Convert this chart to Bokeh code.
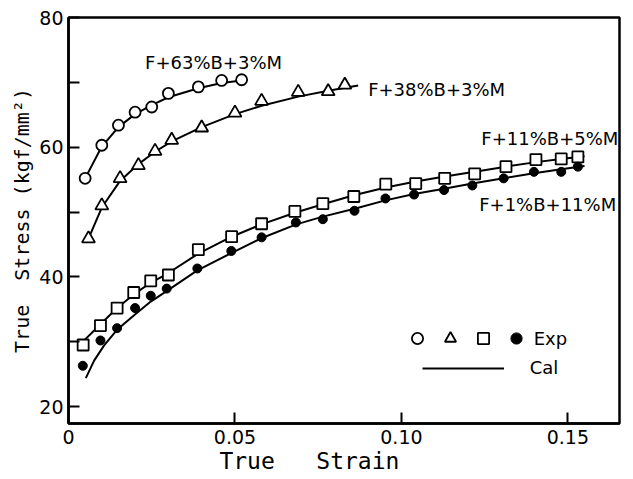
from bokeh.plotting import figure
from bokeh.models import Range1d, FixedTicker, Label, Legend, LegendItem
from bokeh.embed import file_html
from bokeh.resources import INLINE

# ---- data ----
circ_x = [0.005, 0.010, 0.015, 0.020, 0.025, 0.030, 0.039, 0.046, 0.052]
circ_y = [55.2, 60.3, 63.4, 65.4, 66.2, 68.3, 69.3, 70.3, 70.4]
tri_x = [0.006, 0.010, 0.0155, 0.021, 0.026, 0.031, 0.040, 0.050, 0.058, 0.069, 0.078, 0.083]
tri_y = [45.9, 51.0, 55.2, 57.2, 59.4, 61.1, 63.0, 65.3, 67.1, 68.5, 68.6, 69.6]
sq_x = [0.0044, 0.0096, 0.0146, 0.0196, 0.0247, 0.030, 0.039, 0.049, 0.058, 0.068,
        0.0764, 0.0857, 0.0953, 0.1043, 0.113, 0.122, 0.1314, 0.1404, 0.148, 0.153]
sq_y = [29.5, 32.5, 35.2, 37.6, 39.4, 40.3, 44.2, 46.2, 48.2, 50.1,
        51.3, 52.4, 54.3, 54.4, 55.2, 55.9, 57.0, 58.1, 58.2, 58.5]
dot_x = [0.0043, 0.0096, 0.0146, 0.020, 0.0247, 0.0295, 0.0387, 0.0489, 0.058, 0.0683,
         0.0764, 0.0859, 0.0952, 0.1038, 0.1128, 0.1213, 0.1307, 0.1398, 0.148, 0.153]
dot_y = [26.3, 30.2, 32.1, 35.2, 37.1, 38.2, 41.3, 44.0, 46.1, 48.4,
         48.9, 50.2, 52.1, 52.7, 53.4, 54.1, 55.2, 56.2, 56.2, 57.0]

# calculated curves
cal_c_x = [0.005, 0.010, 0.015, 0.020, 0.025, 0.030, 0.039, 0.046, 0.052]
cal_c_y = [55.2, 60.1, 63.1, 65.1, 66.5, 67.7, 69.1, 69.9, 70.3]
cal_t_x = [0.006, 0.010, 0.0155, 0.021, 0.026, 0.031, 0.040, 0.050, 0.058, 0.069, 0.078, 0.087]
cal_t_y = [45.9, 50.7, 54.8, 57.4, 59.3, 60.9, 63.1, 65.1, 66.4, 67.8, 68.7, 69.5]
cal_s_x = [0.0035, 0.0096, 0.0146, 0.0196, 0.0247, 0.030, 0.039, 0.049, 0.058, 0.068,
           0.0764, 0.0857, 0.0953, 0.1043, 0.113, 0.122, 0.1314, 0.1404, 0.148, 0.155]
cal_s_y = [29.6, 32.7, 35.2, 37.3, 39.1, 40.6, 43.6, 46.2, 48.1, 49.9,
           51.2, 52.6, 53.8, 54.7, 55.5, 56.2, 57.0, 57.7, 58.2, 58.6]
cal_d_x = [0.0052, 0.0077, 0.0107, 0.0145, 0.0197, 0.0247, 0.0297, 0.0387, 0.0486, 0.0581,
           0.0684, 0.0764, 0.0859, 0.0952, 0.1038, 0.1128, 0.1213, 0.1307, 0.1398, 0.148, 0.155]
cal_d_y = [24.4, 27.1, 29.45, 31.8, 34.1, 36.2, 37.9, 41.0, 43.6, 46.0,
           48.1, 49.3, 50.5, 51.8, 52.8, 53.6, 54.4, 55.2, 56.0, 56.6, 57.1]

x_ticks = [0, 0.05, 0.10, 0.15]
x_tick_labels = ["0", "0.05", "0.10", "0.15"]
y_ticks = [20, 30, 40, 50, 60, 70, 80]
y_tick_labels = ["20", "", "40", "", "60", "", "80"]

curve_labels = ["F+63%B+3%M", "F+38%B+3%M", "F+11%B+5%M", "F+1%B+11%M"]
x_title = "True \u00a0\u00a0Strain"
y_title = "True \u00a0Stress (kgf/mm\u00b2)"

FONT = "DejaVu Sans"
MONO = "DejaVu Sans Mono"

p = figure(frame_width=551, frame_height=406, output_backend="svg", toolbar_location=None,
           x_range=Range1d(0, 0.1655), y_range=Range1d(17.4, 80),
           min_border_left=68, min_border_right=12, min_border_top=17, min_border_bottom=40)
p.xgrid.visible = False
p.ygrid.visible = False
p.outline_line_color = "black"
p.outline_line_width = 2.5
p.background_fill_color = "white"
p.border_fill_color = "white"

for ax in (p.xaxis[0], p.yaxis[0]):
    ax.axis_line_width = 2.5
    ax.major_tick_in = 11
    ax.major_tick_out = 0
    ax.major_tick_line_width = 2
    ax.minor_tick_line_color = None
    ax.major_label_text_font = FONT
    ax.major_label_text_font_size = "19px"
    ax.major_label_text_color = "black"
    ax.axis_label_text_font = MONO
    ax.axis_label_text_font_style = "normal"
    ax.axis_label_text_color = "black"

p.xaxis.ticker = FixedTicker(ticks=x_ticks)
p.xaxis.major_label_overrides = {t: l for t, l in zip(x_ticks, x_tick_labels)}
p.xaxis.major_label_standoff = 6
p.xaxis.axis_label = x_title + "\u00a0" * 5
p.xaxis.axis_label_text_font_size = "23px"
p.xaxis.axis_label_standoff = 1

p.yaxis.ticker = FixedTicker(ticks=y_ticks)
p.yaxis.major_label_overrides = {t: l for t, l in zip(y_ticks, y_tick_labels)}
p.yaxis.major_label_standoff = 5
p.yaxis.axis_label = y_title
p.yaxis.axis_label_text_font_size = "20px"
p.yaxis.axis_label_standoff = 2

lw = 2
r_lc = p.line(cal_c_x, cal_c_y, line_color="black", line_width=lw)
p.line(cal_t_x, cal_t_y, line_color="black", line_width=lw)
p.line(cal_s_x, cal_s_y, line_color="black", line_width=lw)
p.line(cal_d_x, cal_d_y, line_color="black", line_width=lw)

r_c = p.scatter(circ_x, circ_y, marker="circle", size=11, fill_color="white",
                line_color="black", line_width=1.8)
r_t = p.scatter(tri_x, tri_y, marker="triangle", size=13, fill_color="white",
                line_color="black", line_width=1.8)
r_s = p.scatter(sq_x, sq_y, marker="square", size=11, fill_color="white",
                line_color="black", line_width=1.8)
r_d = p.scatter(dot_x, dot_y, marker="circle", size=9, fill_color="black",
                line_color="black", line_width=1)

# curve labels
lab_pos = [(0.023, 73.1, "left"), (0.090, 68.9, "left"), (0.124, 61.4, "left"), (0.1645, 51.2, "right")]
for txt, (lx, ly, al) in zip(curve_labels, lab_pos):
    p.add_layout(Label(x=lx, y=ly, text=txt, text_align=al, text_baseline="middle",
                       text_font=FONT, text_font_size="18px", text_color="black"))

# legend
leg1 = Legend(items=[LegendItem(label="", renderers=[r_c]),
                     LegendItem(label="", renderers=[r_t]),
                     LegendItem(label="", renderers=[r_s]),
                     LegendItem(label="Exp", renderers=[r_d])],
              orientation="horizontal", location=(334.7, 70.7),
              glyph_width=28, glyph_height=28, label_width=0, label_standoff=4, spacing=1,
              padding=0, margin=0, border_line_color=None, background_fill_alpha=0,
              label_text_font=FONT, label_text_font_size="18px", label_text_color="black")
leg2 = Legend(items=[LegendItem(label="Cal", renderers=[r_lc])],
              location=(353.7, 44.7), glyph_width=82, glyph_height=20, label_standoff=26,
              padding=0, margin=0, border_line_color=None, background_fill_alpha=0,
              label_text_font=FONT, label_text_font_size="18px", label_text_color="black")
p.add_layout(leg1, "center")
p.add_layout(leg2, "center")

open("out.html", "w").write(file_html(p, INLINE))
